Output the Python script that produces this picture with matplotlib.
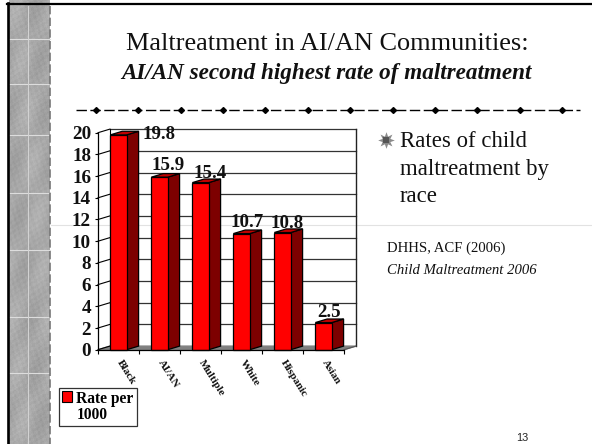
import numpy as np
import matplotlib
matplotlib.use('Agg')
import matplotlib.pyplot as plt
from matplotlib.patches import Patch
from matplotlib.transforms import ScaledTranslation

# Chart data
races = ['Black', 'AI/AN', 'Multiple', 'White', 'Hispanic', 'Asian']
rates = [19.8, 15.9, 15.4, 10.7, 10.8, 2.5]
y_ticks = [0, 2, 4, 6, 8, 10, 12, 14, 16, 18, 20]
legend_label = 'Rate per\n1000'

# Slide text
title = 'Maltreatment in AI/AN Communities:'
subtitle = 'AI/AN second highest rate of maltreatment'
bullet_lines = ['Rates of child', 'maltreatment by', 'race']
source = 'DHHS, ACF (2006)'
source_title = 'Child Maltreatment 2006'
page_number = '13'

W, H = 592, 444
plt.rcParams['font.family'] = ['Liberation Serif', 'DejaVu Serif']
fig = plt.figure(figsize=(W / 100, H / 100), dpi=100)

# Slide background in pixel coordinates
bg = fig.add_axes([0, 0, 1, 1], zorder=0)
yy, xx = np.mgrid[0:H, 0:41]
texture = (168 + 10 * np.sin(xx * 0.17 + yy * 0.043) * np.sin(yy * 0.061 + 1)
           + 5 * np.sin(xx * 0.9 + yy * 0.37) * np.sin(yy * 0.73 - xx * 0.21)
           + 3 * np.sin(xx * xx * 1.7 + yy * yy * 0.93))
bg.imshow(texture, cmap='gray', vmin=0, vmax=255, extent=(9, 50, H, 0), aspect='auto')
for y in [39, 84, 135, 193, 250, 317, 373]:
    bg.plot([9, 50], [y, y], color='#dddddd', lw=0.8)
bg.plot([28, 28], [6, H], color='#d4d4d4', lw=0.7)
bg.plot([50, 50], [6, H], color='#777777', lw=1.2, ls=(0, (5, 2)))
bg.plot([7.5, 7.5], [3, H], color='black', lw=1.9)
bg.plot([7, W], [4.5, 4.5], color='black', lw=1.6)
bg.plot([51, W], [224.5, 224.5], color='#e2e2e2', lw=0.8)

# Divider with diamonds
bg.plot([76, 580], [110, 110], color='black', lw=1.0, ls=(0, (7.5, 2.5)))
bg.plot(96 + 42.36 * np.arange(12), [110] * 12, ls='none', marker='D', ms=3, color='black')

bg.text(327, 50, title, fontsize=18.95, ha='center', va='baseline', color='#111111')
bg.text(326.5, 79, subtitle, fontsize=16.7, ha='center', va='baseline',
        style='italic', weight='bold', color='#111111')

bg.plot([385.5], [140.5], ls='none', marker=(8, 1, 0), ms=12, color='#8a8a8a', mew=0)
bg.plot([385.5], [140.5], ls='none', marker='s', ms=5, color='#555555', mew=0)
for line, y in zip(bullet_lines, [146.7, 175, 201.7]):
    bg.text(400, y, line, fontsize=16.4, va='baseline', color='#111111')
bg.text(387, 252, source, fontsize=10.6, va='baseline', color='#111111')
bg.text(387, 274, source_title, fontsize=10.6, va='baseline', style='italic', color='#111111')
bg.text(522, 441, page_number, fontsize=7.8, ha='center', va='baseline',
        family='Liberation Sans', color='#222222')
bg.set_xlim(0, W)
bg.set_ylim(H, 0)
bg.axis('off')

# Chart axes sit on the front plane of the fake 3D box
ax = fig.add_axes([98 / W, 1 - 349.7 / H, 246 / W, 217 / H], zorder=1)
ax.patch.set_alpha(0)
ax.set_xlim(0, len(races))
ax.set_ylim(0, 20)

dx, dy = 0.29, 0.33
pos = np.arange(len(races)) + 0.5
bar_w = 0.4

# Floor, back wall, left wall
ax.fill([0, dx, 6 + dx, 6], [0, dy, dy, 0], color='#808080', clip_on=False, zorder=1)
for v in y_ticks[1:]:
    ax.plot([dx, 6 + dx], [v + dy, v + dy], color='#333333', lw=0.9, clip_on=False, zorder=1)
for v in y_ticks:
    ax.plot([0, dx], [v, v + dy], color='black', lw=0.8, clip_on=False, zorder=1)
ax.plot([dx, dx], [dy, 20 + dy], color='black', lw=0.8, clip_on=False, zorder=1)
ax.plot([6 + dx, 6 + dx], [dy, 20 + dy], color='#222222', lw=1.0, clip_on=False, zorder=1)
ax.plot([6, 6 + dx], [0, dy], color='#555555', lw=0.8, clip_on=False, zorder=1)

# Bars: front face from ax.bar, side and top faces from the same values
ax.bar(pos, rates, width=bar_w, color='#ff0000', edgecolor='black', lw=0.9, zorder=3,
       clip_on=False, label='_front')
for p, r in zip(pos, rates):
    right = p + bar_w / 2
    left = p - bar_w / 2
    ax.fill([right, right + dx, right + dx, right], [0, dy, r + dy, r],
            facecolor='#7d0000', edgecolor='black', lw=0.9, zorder=2, clip_on=False)
    ax.fill([left, left + dx, right + dx, right], [r, r + dy, r + dy, r],
            facecolor='#c00000', edgecolor='black', lw=0.9, zorder=2, clip_on=False)

# Value labels, nudged by hand as in the original
nudges = [(41, -4.4), (8.5, 7), (9.5, 5), (5.5, 6.6), (4.5, 4.2), (5.5, 6)]
for p, r, (nx, ny) in zip(pos, rates, nudges):
    ax.annotate(f'{r}', (p, r), xytext=(nx, ny), textcoords='offset pixels', ha='center',
                va='baseline', fontsize=13.6, weight='bold', color='#111111', zorder=5,
                annotation_clip=False)

for side in ['top', 'right']:
    ax.spines[side].set_visible(False)
ax.spines['left'].set_linewidth(0.9)
ax.spines['bottom'].set_linewidth(0.9)
ax.spines['bottom'].set_zorder(4)

ax.set_yticks(y_ticks)
ax.tick_params(axis='y', length=2.5, width=0.8, pad=2.5)
for lab in ax.get_yticklabels():
    lab.set_fontsize(13.8)
    lab.set_fontweight('bold')
    lab.set_color('#111111')
ax.set_xticks(np.arange(len(races) + 1))
ax.set_xticklabels([])
ax.tick_params(axis='x', which='major', length=3, width=0.8)
ax.set_xticks(pos, minor=True)
ax.set_xticklabels(races, minor=True, rotation=-58, ha='left', rotation_mode='anchor',
                   fontsize=8, weight='bold', color='#111111')
ax.tick_params(axis='x', which='minor', length=0, pad=6.5)
shift = ScaledTranslation(4 / 100, 0, fig.dpi_scale_trans)
for lab in ax.get_xticklabels(minor=True):
    lab.set_transform(lab.get_transform() + shift)

leg = ax.legend(handles=[Patch(facecolor='#ff0000', edgecolor='black', lw=0.8)],
                labels=[legend_label], loc='upper left',
                bbox_to_anchor=(59 / W, 1 - 388 / H), bbox_transform=fig.transFigure,
                fancybox=False, edgecolor='#333333', framealpha=1, borderaxespad=0,
                prop={'size': 11.2, 'weight': 'bold'}, handlelength=0.62, handleheight=0.7,
                handletextpad=0.3, borderpad=0.2, labelspacing=0, shadow=False)
leg.get_frame().set_linewidth(0.9)
leg.get_texts()[0].set_linespacing(1.0)
swatch = leg.legend_handles[0]
swatch.set_y(swatch.get_y() + 8)

fig.savefig('out.png', dpi=100)
